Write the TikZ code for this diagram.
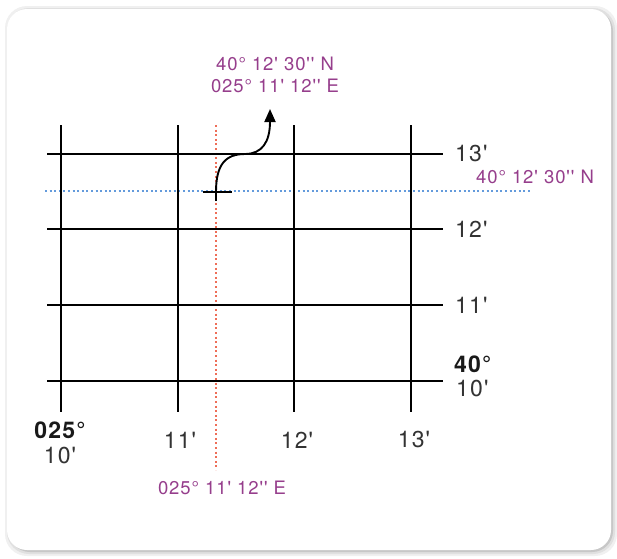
\documentclass[tikz,border=0pt]{standalone}
\usepackage{fontspec}
\setmainfont{TeX Gyre Heros}[Ligatures=TeXOff]
\newfontfamily\lblfont{TeX Gyre Heros}[Ligatures=TeXOff,LetterSpace=5]
\usetikzlibrary{arrows.meta}
\definecolor{lblpurple}{RGB}{150,62,140}
\definecolor{dotblue}{RGB}{100,155,220}
\definecolor{dotred}{RGB}{238,110,88}
\tikzset{
  gridline/.style={line width=2.95pt,black},
  scalelbl/.style={font=\lblfont\fontsize{23}{25}\selectfont,text=black!80,inner sep=0pt},
  boldlbl/.style={font=\lblfont\fontsize{23}{25}\selectfont\bfseries,text=black!90,inner sep=0pt},
  poslbl/.style={font=\lblfont\fontsize{18.5}{21}\selectfont,text=lblpurple,inner sep=0pt},
  bluedots/.style={dotblue,line width=2pt,dash pattern=on 2pt off 2.6pt},
  reddots/.style={dotred,line width=2pt,dash pattern=on 2pt off 2.6pt},
}
\begin{document}
\begin{tikzpicture}[x=1pt,y=-1pt]
\useasboundingbox (0,0) rectangle (617,558);
% card with shadow
\fill[black!6,rounded corners=22pt] (5,6) rectangle (617,556);
\fill[black!12,rounded corners=22pt] (7,8) rectangle (615,554);
\fill[black!22,rounded corners=21pt] (9,10) rectangle (613,552);
\fill[white,rounded corners=20pt] (7,9) rectangle (611,550);
% dotted guide lines
\draw[reddots] (216,125) -- (216,470);
\draw[bluedots] (45,191) -- (530,191);
% grid
\foreach \x in {61,178,294,411} \draw[gridline] (\x,125) -- (\x,412);
\foreach \y in {154,229,305,381} \draw[gridline] (47,\y) -- (443,\y);
% right labels
\node[scalelbl,anchor=west] (r13) at (455,154) {13'};
\node[scalelbl,anchor=west] (r12) at (455,229) {12'};
\node[scalelbl,anchor=west] (r11) at (455,305) {11'};
\node[boldlbl,anchor=west] (r40) at (454,364) {40°};
\node[scalelbl,anchor=west] (r10) at (456,389) {10'};
% bottom labels
\node[boldlbl] (b025) at (60,430) {025°};
\node[scalelbl] (b10) at (60,456) {10'};
\node[scalelbl] (b11) at (180,440) {11'};
\node[scalelbl] (b12) at (297,440) {12'};
\node[scalelbl] (b13) at (414,440) {13'};
% position labels
\node[poslbl] (elon) at (222,488) {025° 11' 12'' E};
\node[poslbl] (nlat) at (535,177) {40° 12' 30'' N};
\node[poslbl] (toplat) at (275,64) {40° 12' 30'' N};
\node[poslbl] (toplon) at (275,86) {025° 11' 12'' E};
% position mark and arrow
\coordinate (fix) at (216,192);
\coordinate (tip) at (270,109);
\draw[line width=1.9pt] (203,192) -- (232,192);
\draw[line width=1.9pt] (216,201) -- (fix);
\draw[line width=1.9pt,-{Triangle[length=13pt,width=11pt]}] (fix) .. controls (216,165) and (225,154) .. (245,154) .. controls (262,154) and (270,142) .. (tip);
\end{tikzpicture}
\end{document}
